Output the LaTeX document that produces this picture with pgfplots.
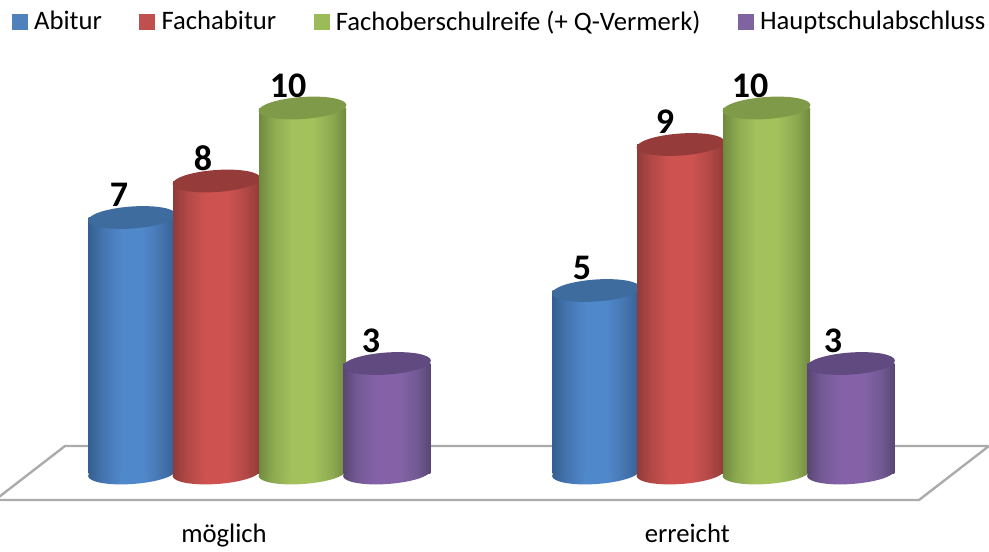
\documentclass[border=0pt]{standalone}
\usepackage{fontspec}
\setmainfont{Carlito}
\usepackage{pgfplots}
\pgfplotsset{compat=1.18}
\definecolor{cbE}{HTML}{355F92}\definecolor{cbS}{HTML}{4474AE}\definecolor{cbM}{HTML}{5088CC}
\definecolor{crE}{HTML}{8F3B39}\definecolor{crS}{HTML}{B14846}\definecolor{crM}{HTML}{CE5350}
\definecolor{cgE}{HTML}{6F8A40}\definecolor{cgS}{HTML}{8DAA50}\definecolor{cgM}{HTML}{A3C25C}
\definecolor{cpE}{HTML}{594674}\definecolor{cpS}{HTML}{735A94}\definecolor{cpM}{HTML}{8562A8}
\definecolor{capb}{HTML}{3F6C9F}\definecolor{capr}{HTML}{953C3A}\definecolor{capg}{HTML}{7F9A48}\definecolor{capp}{HTML}{604A7F}
\definecolor{legb}{HTML}{4F81BD}\definecolor{legr}{HTML}{C0504D}\definecolor{legg}{HTML}{9BBB59}\definecolor{legp}{HTML}{8064A2}
\definecolor{floorgray}{HTML}{ABABAB}
% cylinder body shadings (stops 25..75bp span the bar)
\pgfdeclarehorizontalshading{cylblue}{100bp}{color(0bp)=(cbE);color(25bp)=(cbE);color(33bp)=(cbS);color(44bp)=(cbM);color(56bp)=(cbM);color(67bp)=(cbS);color(75bp)=(cbE);color(100bp)=(cbE)}
\pgfdeclarehorizontalshading{cylred}{100bp}{color(0bp)=(crE);color(25bp)=(crE);color(33bp)=(crS);color(44bp)=(crM);color(56bp)=(crM);color(67bp)=(crS);color(75bp)=(crE);color(100bp)=(crE)}
\pgfdeclarehorizontalshading{cylgreen}{100bp}{color(0bp)=(cgE);color(25bp)=(cgE);color(33bp)=(cgS);color(44bp)=(cgM);color(56bp)=(cgM);color(67bp)=(cgS);color(75bp)=(cgE);color(100bp)=(cgE)}
\pgfdeclarehorizontalshading{cylpurple}{100bp}{color(0bp)=(cpE);color(25bp)=(cpE);color(33bp)=(cpS);color(44bp)=(cpM);color(56bp)=(cpM);color(67bp)=(cpS);color(75bp)=(cpE);color(100bp)=(cpE)}
% ellipse: rx 44px, ry 11px, tilted 4 degrees (1px = 0.75pt)
\newcommand{\cylellipse}{\pgfpathellipse{\pgfpointorigin}{\pgfqpoint{32.92pt}{2.30pt}}{\pgfqpoint{-0.58pt}{8.23pt}}}
\pgfdeclareplotmark{cylcap}{\cylellipse\pgfusepathqfill}
\pgfdeclareplotmark{botblue}{\cylellipse\pgfshadepath{cylblue}{0}\pgfusepath{discard}}
\pgfdeclareplotmark{botred}{\cylellipse\pgfshadepath{cylred}{0}\pgfusepath{discard}}
\pgfdeclareplotmark{botgreen}{\cylellipse\pgfshadepath{cylgreen}{0}\pgfusepath{discard}}
\pgfdeclareplotmark{botpurple}{\cylellipse\pgfshadepath{cylpurple}{0}\pgfusepath{discard}}
% one cylinder: #1 shading, #2 bottom mark, #3 cap colour, #4 bar shift, #5 label xshift, #6 x, #7 value
\newcommand{\cyl}[7]{%
  \addplot[forget plot, only marks, mark=#2, mark options={xshift=#4}] coordinates {(#6,0)};
  \addplot[forget plot, ybar, draw=none, shade, shading=#1, shading angle=0, bar width=65.25pt, bar shift=#4,
    nodes near coords, every node near coord/.append style={xshift=#5}] coordinates {(#6,#7)};
  \addplot[forget plot, only marks, mark=cylcap, mark options={fill=#3, draw=none, xshift=#4}, color=#3] coordinates {(#6,#7)};
}
\begin{document}
\begin{tikzpicture}
\useasboundingbox (0,0) rectangle (741.75pt,413.25pt);
\begin{axis}[
  at={(0,0)}, anchor=south west,
  scale only axis, width=741.75pt, height=413.25pt,
  clip mode=individual,
  xmin=-0.5593, xmax=1.5722, ymin=-2.137, ymax=12.959,
  axis line style={draw=none},
  xtick={-0.0765,0.9218}, xticklabels={möglich,erreicht},
  ytick=\empty,
  major tick length=0pt,
  xticklabel style={anchor=base, yshift=6.75pt, font=\fontsize{20}{24}\selectfont},
  /pgf/number format/assume math mode=true,
  legend columns=4,
  legend style={draw=none, fill=none, at={(0.01213,0.961)}, anchor=west, inner sep=0pt, outer sep=0pt,
    font=\fontsize{20}{24}\selectfont,
    /tikz/every even column/.append style={column sep=26pt}},
  legend cell align=left,
  every node near coord/.append style={font=\bfseries\fontsize{27}{30}\selectfont, anchor=base, yshift=8.2pt, text=black, inner sep=0pt},
]
% floor
\addplot[forget plot, floorgray, line width=1.8pt, line join=miter] coordinates {(-0.5700,-0.74) (-0.4192,0.74) (1.5722,0.74) (1.4213,-0.74) (-0.5700,-0.74)};
% möglich
\cyl{cylblue}{botblue}{capb}{-95.6pt}{-105.4pt}{0}{7}
\cyl{cylred}{botred}{capr}{-32.25pt}{-42.4pt}{0}{8}
\cyl{cylgreen}{botgreen}{capg}{32.25pt}{21.4pt}{0}{10}
\cyl{cylpurple}{botpurple}{capp}{95.6pt}{83.6pt}{0}{3}
% erreicht
\cyl{cylblue}{botblue}{capb}{-95.6pt}{-106.1pt}{1}{5}
\cyl{cylred}{botred}{capr}{-32.25pt}{-43.9pt}{1}{9}
\cyl{cylgreen}{botgreen}{capg}{32.25pt}{19.9pt}{1}{10}
\cyl{cylpurple}{botpurple}{capp}{95.6pt}{82.1pt}{1}{3}
% legend
\addlegendimage{legend image code/.code={\fill[legb] (0pt,-5.6pt) rectangle (11.25pt,5.6pt);\path (14.25pt,0pt);}}
\addlegendentry{Abitur}
\addlegendimage{legend image code/.code={\fill[legr] (0pt,-5.6pt) rectangle (11.25pt,5.6pt);\path (14.25pt,0pt);}}
\addlegendentry{Fachabitur}
\addlegendimage{legend image code/.code={\fill[legg] (0pt,-5.6pt) rectangle (11.25pt,5.6pt);\path (14.25pt,0pt);}}
\addlegendentry{Fachoberschulreife (+ Q-Vermerk)}
\addlegendimage{legend image code/.code={\fill[legp] (0pt,-5.6pt) rectangle (11.25pt,5.6pt);\path (14.25pt,0pt);}}
\addlegendentry{Hauptschulabschluss}
\end{axis}
\end{tikzpicture}
\end{document}
